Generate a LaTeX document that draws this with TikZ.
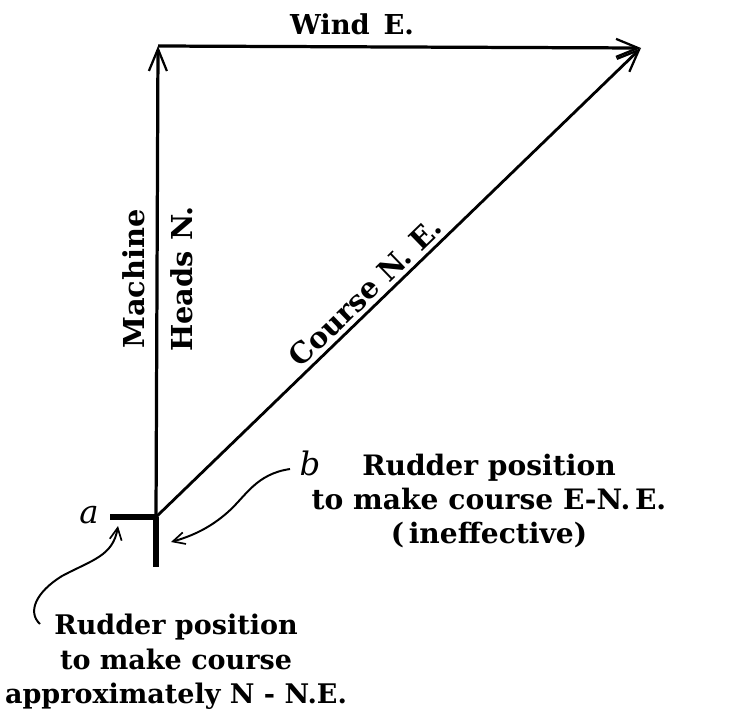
\documentclass[tikz,border=0pt]{standalone}
\usepackage{fontspec}
\setmainfont{DejaVu Serif}
\usetikzlibrary{arrows.meta}

\begin{document}
\begin{tikzpicture}[
    x=0.025cm, y=-0.025cm,
    vecline/.style={
        line width=2.3pt,
        -{Straight Barb[length=5.5mm,width=4.5mm,line width=1.6pt]}
    },
    rudderline/.style={
        line width=4.4pt
    },
    pointer/.style={
        line width=1.4pt,
        -{Straight Barb[length=3mm,width=3mm,line width=1.2pt]}
    },
    veclabel/.style={
        font=\fontsize{20.5}{24}\selectfont\bfseries,
        inner sep=0pt
    },
    notelabel/.style={
        font=\fontsize{20}{24.5}\selectfont\bfseries,
        align=center,
        inner sep=0pt
    },
    letterlabel/.style={
        font=\fontsize{23}{24}\selectfont\itshape,
        inner sep=0pt
    }
]
    \useasboundingbox (0,0) rectangle (742,711);

    % --- VECTOR TRIANGLE ---
    \coordinate (origin) at (156,517);
    \coordinate (north) at (158,46);
    \coordinate (tip) at (641,48);
    \coordinate (ruddera) at (110,517);
    \coordinate (rudderend) at (156,567);

    \draw[vecline] (origin) -- (north);
    \draw[vecline] (north) -- (tip);
    \draw[vecline, line width=2pt] (origin) -- node[veclabel, sloped, above, pos=0.455, yshift=3pt] (course) {Course N. E.} (tip);

    % --- RUDDER ---
    \draw[rudderline] (origin) -- (rudderend);
    \draw[rudderline] (ruddera) -- ([xshift=1.5]origin);

    % --- LABELS ON VECTORS ---
    \node[veclabel, font=\fontsize{19.5}{24}\selectfont\bfseries] (wind) at (352,24) {Wind\enspace E.};
    \node[veclabel, rotate=90] (machine) at (134,279) {Machine};
    \node[veclabel, rotate=90] (heads) at (182,279) {Heads N.};

    % --- RUDDER POSITIONS ---
    \node[letterlabel] (a) at (89,515) {a};
    \node[letterlabel] (b) at (310,463) {b};

    \node[notelabel] (noteb) at (489,501) {Rudder position\\to make course E-N.\,E.\\(\,ineffective)};
    \node[notelabel, font=\fontsize{19.2}{24.5}\selectfont\bfseries] (notea) at (176,662) {Rudder position\\to make course\\approximately N - N.E.};

    \coordinate (bstart) at (290,469);
    \coordinate (bend) at (171,542);
    \coordinate (astart) at (40,624);
    \coordinate (aend) at (118,526);

    \draw[pointer] (bstart) .. controls (256,474) and (246,496) .. (228,512)
        .. controls (210,528) and (192,536) .. (bend);
    \draw[pointer] (astart) .. controls (27,612) and (36,592) .. (62,576)
        .. controls (92,560) and (113,556) .. (aend);
\end{tikzpicture}
\end{document}
